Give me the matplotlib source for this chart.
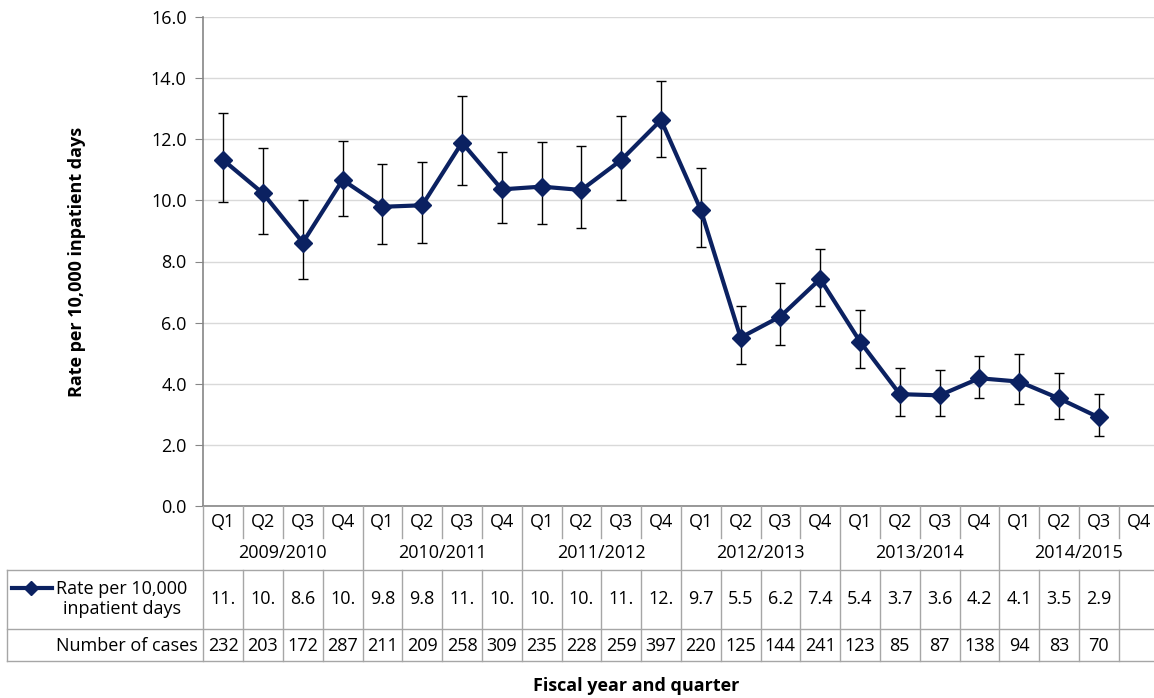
import numpy as np
import matplotlib
matplotlib.use('Agg')
from matplotlib import pyplot as plt
from matplotlib.lines import Line2D
from matplotlib.transforms import blended_transform_factory

plt.rcParams['font.family'] = ['Open Sans', 'DejaVu Sans']

# podatki po četrtletjih
years = ['2009/2010', '2010/2011', '2011/2012', '2012/2013', '2013/2014', '2014/2015']
quarters = ['Q1', 'Q2', 'Q3', 'Q4']
rate = [11.32, 10.23, 8.62, 10.67, 9.79, 9.84, 11.89, 10.36, 10.45, 10.34, 11.32, 12.63,
        9.69, 5.51, 6.20, 7.43, 5.38, 3.66, 3.62, 4.18, 4.07, 3.52, 2.90]
ci_low = [9.94, 8.91, 7.44, 9.49, 8.56, 8.60, 10.50, 9.27, 9.22, 9.09, 10.01, 11.43,
          8.49, 4.64, 5.27, 6.54, 4.51, 2.96, 2.95, 3.53, 3.33, 2.85, 2.30]
ci_high = [12.87, 11.73, 10.02, 11.95, 11.19, 11.27, 13.42, 11.58, 11.90, 11.78, 12.76, 13.92,
           11.05, 6.55, 7.29, 8.40, 6.41, 4.51, 4.46, 4.92, 4.97, 4.35, 3.66]
cases = [232, 203, 172, 287, 211, 209, 258, 309, 235, 228, 259, 397,
         220, 125, 144, 241, 123, 85, 87, 138, 94, 83, 70]
yticks = [0, 2, 4, 6, 8, 10, 12, 14, 16]

navy = '#0b2161'
edge = '#a6a6a6'
axcol = '#868686'
fs = 13

W, H = 1154, 698
fig = plt.figure(figsize=(W / 100, H / 100), dpi=100)

def fx(px):
    return px / W

def fy(py):
    return 1 - py / H

ax = fig.add_axes([fx(203.3), fy(506), fx(1158.5) - fx(203.3), fy(17) - fy(506)])

n_cat = len(years) * len(quarters)
x = np.arange(len(rate))
rate = np.array(rate)
err = [rate - np.array(ci_low), np.array(ci_high) - rate]

ax.errorbar(x, rate, yerr=err, fmt='none', ecolor='black', elinewidth=1, capsize=3.5, capthick=1, zorder=3)
ax.plot(x, rate, color=navy, lw=3, marker='D', markersize=9, zorder=4)

ax.set_xlim(-0.5, n_cat - 0.5)
ax.set_ylim(0, 16)
ax.set_yticks(yticks)
ax.set_yticklabels(['%.1f' % t for t in yticks], fontsize=fs)
ax.set_xticks([])
ax.yaxis.grid(True, color='#d9d9d9', lw=1)
ax.set_axisbelow(True)
for s in ['top', 'right']:
    ax.spines[s].set_visible(False)
for s in ['left', 'bottom']:
    ax.spines[s].set_color(axcol)
    ax.spines[s].set_linewidth(1.2)
ax.tick_params(axis='y', direction='out', length=6, color=axcol, pad=6)

# tabela pod grafom
trans = blended_transform_factory(ax.transData, fig.transFigure)

def vline(xd, y0, y1):
    fig.add_artist(Line2D([xd, xd], [fy(y0), fy(y1)], transform=trans, color=edge, lw=1))

def hline(py, x0, x1):
    fig.add_artist(Line2D([fx(x0), fx(x1)], [fy(py), fy(py)], color=edge, lw=1))

for k in range(n_cat + 1):
    xb = k - 0.5
    if k % 4 == 0:
        vline(xb, 506, 661)
    else:
        vline(xb, 506, 538)
        vline(xb, 570, 661)
hline(570, 6.7, 1160)
hline(629, 6.7, 1160)
hline(661, 6.7, 1160)
fig.add_artist(Line2D([fx(6.7), fx(6.7)], [fy(570), fy(661)], color=edge, lw=1))

for i in range(n_cat):
    fig.text(i, fy(522), quarters[i % 4], transform=trans, ha='center', va='center', fontsize=fs)
for j, yr in enumerate(years):
    fig.text(j * 4 + 1.5, fy(553), yr, transform=trans, ha='center', va='center', fontsize=fs)
for i, v in enumerate(rate):
    fig.text(i, fy(599), ('%.1f' % v)[:3], transform=trans, ha='center', va='center', fontsize=fs)
for i, c in enumerate(cases):
    fig.text(i, fy(646), str(c), transform=trans, ha='center', va='center', fontsize=fs)

# legenda v glavi vrstice
fig.add_artist(Line2D([fx(12), fx(52)], [fy(588), fy(588)], color=navy, lw=3))
fig.add_artist(Line2D([fx(31)], [fy(588)], color=navy, marker='D', markersize=7))
fig.text(fx(122), fy(599), 'Rate per 10,000\ninpatient days', ha='center', va='center',
         multialignment='center', fontsize=fs, linespacing=1.1)
fig.text(fx(198), fy(646), 'Number of cases', ha='right', va='center', fontsize=fs)

fig.text(fx(77), fy(262), 'Rate per 10,000 inpatient days', rotation=90, ha='center', va='center',
         fontsize=fs, fontweight='bold')
fig.text(fx(636), fy(686), 'Fiscal year and quarter', ha='center', va='center',
         fontsize=fs, fontweight='bold')

fig.savefig('out.png', dpi=100)
